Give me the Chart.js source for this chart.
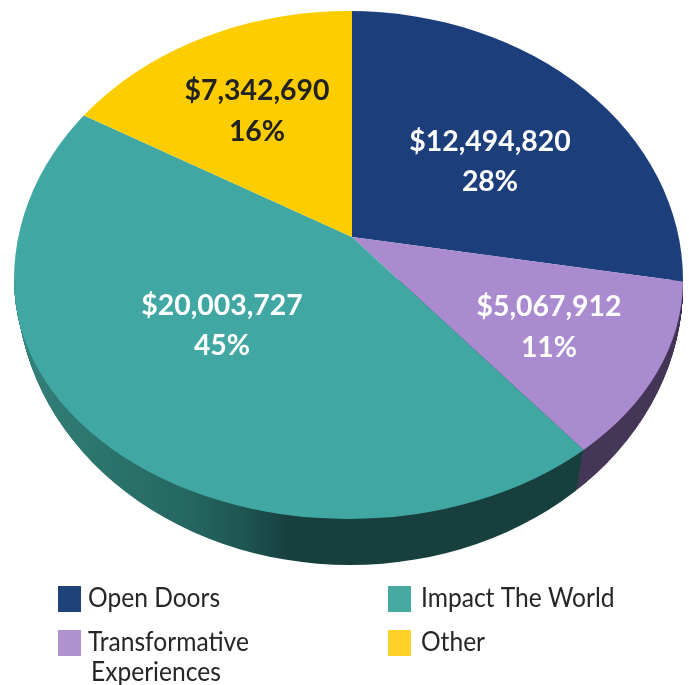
<!DOCTYPE html>
<html>
<head>
<meta charset="utf-8">
<style>
  html, body { margin: 0; padding: 0; background: #fff; }
  canvas { display: block; }
</style>
<script src="https://cdn.jsdelivr.net/npm/chart.js@4/dist/chart.umd.js"></script>
</head>
<body>
<canvas id="pie" width="689" height="685"></canvas>
<script>
const categories = ['Open Doors', 'Transformative Experiences', 'Impact The World', 'Other'];
const amounts = [12494820, 5067912, 20003727, 7342690];

const topColors = ['#1c3f7c', '#ab8bd0', '#40a7a2', '#fdcd00'];
const sideColors = ['#12294f', '#463858', '#173f3e', '#a08200'];
const labelColors = ['#ffffff', '#ffffff', '#ffffff', '#222222'];
const swatchColors = ['#1f4279', '#b092d0', '#48a8a2', '#fdd22b'];

// where the printed pie sits on the page
const apex = { x: 352, y: 237 };
const squash = 0.75;
const reach = 480;
const topFace = { x: 348.5, y: 280, rx: 334.5, up: 269, down: 239 };
const lowFace = { x: 350, y: 285, rx: 333, down: 280 };
const depth = 46;

const labelSpots = [[490, 151, 191], [549, 316, 357], [222, 315, 355], [257, 100, 141]];
const legendSpots = [
    { box: [58, 586], text: [88, 607], line: 'Open Doors', color: 0 },
    { box: [58, 630], text: [88, 651], line: 'Transformative', color: 1 },
    { box: [58, 630], text: [91, 681], line: 'Experiences', color: 1 },
    { box: [388, 586], text: [421, 607], line: 'Impact The World', color: 2 },
    { box: [388, 630], text: [421, 651], line: 'Other', color: 3 }
];

const total = amounts.reduce((a, b) => a + b, 0);

function placeWedges(ctx, arc, dy) {
    const k = reach / arc.outerRadius;
    ctx.translate(apex.x, apex.y + dy);
    ctx.scale(k, k * squash);
    ctx.translate(-arc.x, -arc.y);
}

function clipTopFace(ctx) {
    const e = topFace;
    ctx.beginPath();
    ctx.ellipse(e.x, e.y, e.rx, e.up, 0, Math.PI, Math.PI * 2);
    ctx.ellipse(e.x, e.y, e.rx, e.down, 0, 0, Math.PI);
    ctx.closePath();
    ctx.clip();
}

function clipLowerHalf(ctx, x, y, rx, ry) {
    ctx.beginPath();
    ctx.ellipse(x, y, rx, ry, 0, 0, Math.PI);
    ctx.closePath();
    ctx.clip();
}

function sideFill(ctx, arc, i) {
    if (i !== 2) return sideColors[i];
    // teal wall fades out towards the front, stops given in page x
    const k = reach / arc.outerRadius;
    const toPie = x => arc.x + (x - apex.x) / k;
    const g = ctx.createLinearGradient(toPie(10), 0, toPie(340), 0);
    g.addColorStop(0, '#35827c');
    g.addColorStop(0.3, '#2b736c');
    g.addColorStop(0.55, '#256660');
    g.addColorStop(0.72, '#1d5450');
    g.addColorStop(0.85, '#173f3e');
    g.addColorStop(1, '#173f3e');
    return g;
}

const pseudo3d = {
    id: 'pseudo3d',
    beforeDatasetDraw(chart, args) {
        const ctx = chart.ctx;
        const arcs = args.meta.data;
        for (let d = depth; d > 0; d--) {
            const t = d / depth;
            ctx.save();
            clipLowerHalf(
                ctx,
                topFace.x + (lowFace.x - topFace.x) * t,
                topFace.y + (lowFace.y - topFace.y) * t,
                topFace.rx + (lowFace.rx - topFace.rx) * t,
                topFace.down + (lowFace.down - topFace.down) * t
            );
            placeWedges(ctx, arcs[0], d);
            arcs.forEach((arc, i) => {
                const real = arc.options;
                arc.options = Object.create(real);
                arc.options.backgroundColor = sideFill(ctx, arc, i);
                arc.draw(ctx);
                arc.options = real;
            });
            ctx.restore();
        }
        ctx.save();
        clipTopFace(ctx);
        placeWedges(ctx, arcs[0], 0);
        arcs.forEach(arc => arc.draw(ctx));
        ctx.restore();
        return false;
    },
    afterDraw(chart) {
        const ctx = chart.ctx;
        ctx.save();
        ctx.textAlign = 'center';
        ctx.font = 'bold 28.4px Lato';
        amounts.forEach((v, i) => {
            const [x, y1, y2] = labelSpots[i];
            ctx.fillStyle = labelColors[i];
            ctx.fillText('$' + v.toLocaleString('en-US'), x, y1);
            ctx.fillText(Math.round(v / total * 100) + '%', x, y2);
        });
        ctx.textAlign = 'left';
        ctx.font = '26px Lato';
        legendSpots.forEach(s => {
            ctx.fillStyle = swatchColors[s.color];
            ctx.fillRect(s.box[0], s.box[1], 23, 26);
            ctx.fillStyle = '#262626';
            ctx.fillText(s.line, s.text[0], s.text[1], ctx.measureText(s.line).width * 0.945);
        });
        ctx.restore();
    }
};

new Chart(document.getElementById('pie'), {
    type: 'pie',
    data: {
        labels: categories,
        datasets: [{
            data: amounts,
            backgroundColor: topColors,
            borderWidth: 0
        }]
    },
    options: {
        responsive: false,
        animation: false,
        devicePixelRatio: 1,
        plugins: {
            legend: { display: false },
            tooltip: { enabled: false }
        }
    },
    plugins: [pseudo3d]
});
</script>
</body>
</html>
